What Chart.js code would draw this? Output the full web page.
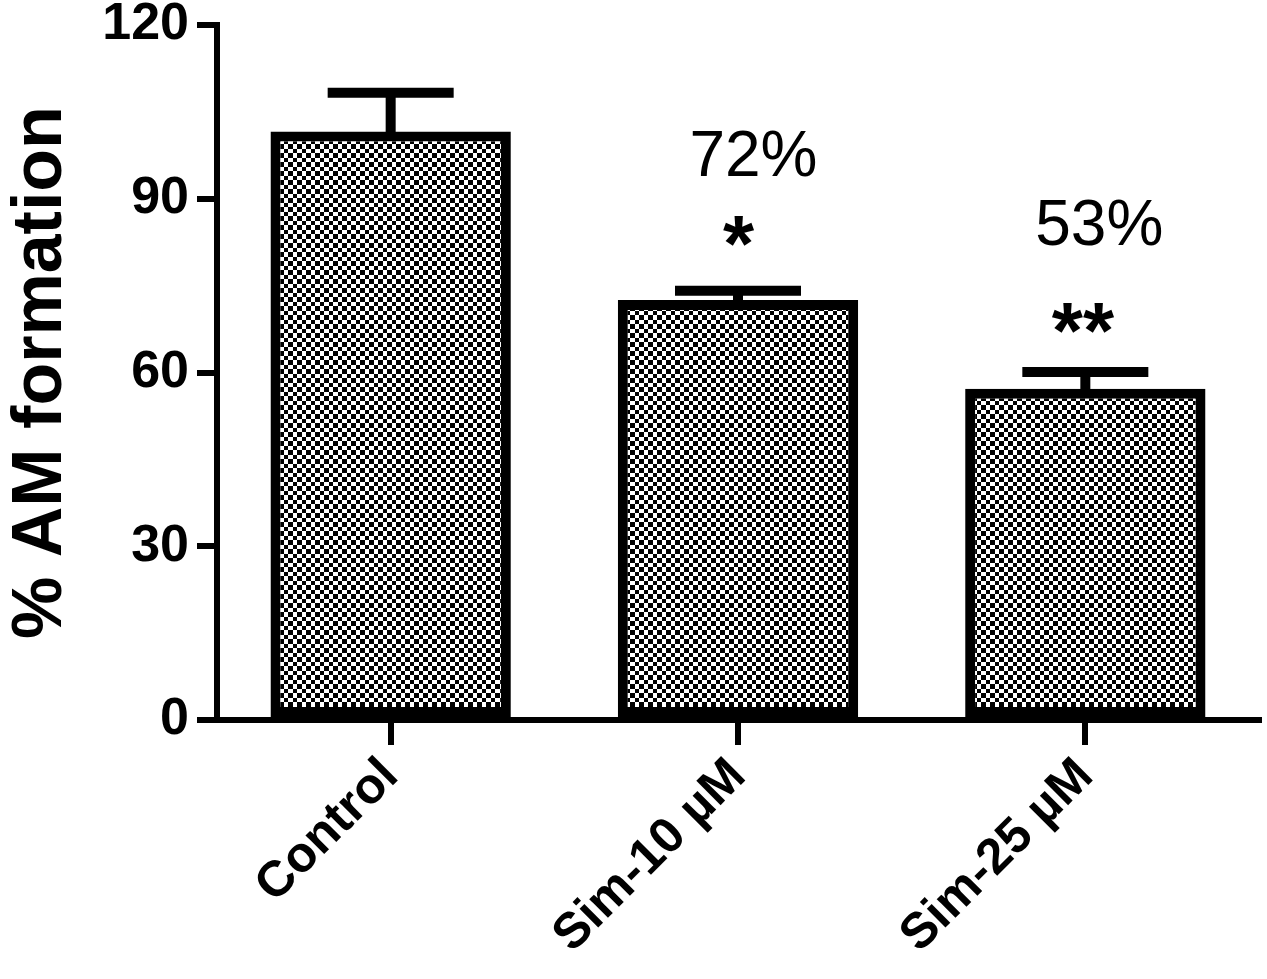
<!DOCTYPE html>
<html>
<head>
<meta charset="utf-8">
<script src="https://cdn.jsdelivr.net/npm/chart.js@4.4.1/dist/chart.umd.min.js"></script>
<style>
  html, body { margin: 0; padding: 0; background: #fff; }
  #wrap { width: 1267px; height: 979px; }
</style>
</head>
<body>
<div id="wrap"><canvas id="chart" width="1267" height="979"></canvas></div>
<script>
const categories = ['Control', 'Sim-10 µM', 'Sim-25 µM'];
const meanValues = [101.6, 72.5, 57.2];
const semValues = [6.7, 1.6, 2.9];
const yTicks = [0, 30, 60, 90, 120];
const percentLabels = ['', '72%', '53%'];
const starLabels = ['', '*', '**'];

const FONT = 'Arial, "Liberation Sans", Helvetica, sans-serif';

// checkerboard fill
function makeChecker() {
    const c = document.createElement('canvas');
    c.width = 9;
    c.height = 9;
    const g = c.getContext('2d');
    g.fillStyle = '#fff';
    g.fillRect(0, 0, 9, 9);
    g.fillStyle = '#000';
    g.fillRect(0, 0, 5, 5);
    g.fillRect(5, 5, 4, 4);
    return g.createPattern(c, 'repeat');
}

const errorBars = {
    id: 'errorBars',
    afterDatasetsDraw(chart) {
        const ctx = chart.ctx;
        const y = chart.scales.y;
        const meta = chart.getDatasetMeta(0);
        ctx.save();
        ctx.strokeStyle = '#000';
        ctx.lineWidth = 10;
        meta.data.forEach((bar, i) => {
            const top = y.getPixelForValue(meanValues[i] + semValues[i]);
            ctx.beginPath();
            ctx.moveTo(bar.x, bar.y + 5);
            ctx.lineTo(bar.x, top);
            ctx.moveTo(bar.x - 63, top);
            ctx.lineTo(bar.x + 63, top);
            ctx.stroke();
        });
        ctx.restore();
    }
};

// text centred on its ink box
function inkText(ctx, text, cx, cy) {
    const m = ctx.measureText(text);
    const w = m.actualBoundingBoxLeft + m.actualBoundingBoxRight;
    const h = m.actualBoundingBoxAscent + m.actualBoundingBoxDescent;
    ctx.fillText(text, cx - w / 2 + m.actualBoundingBoxLeft, cy - h / 2 + m.actualBoundingBoxAscent);
}

const annotations = {
    id: 'annotations',
    afterDraw(chart) {
        const ctx = chart.ctx;
        const y = chart.scales.y;
        const meta = chart.getDatasetMeta(0);
        ctx.save();
        ctx.fillStyle = '#000';
        ctx.textAlign = 'left';
        ctx.textBaseline = 'alphabetic';
        meta.data.forEach((bar, i) => {
            if (!percentLabels[i]) return;
            const errTop = y.getPixelForValue(meanValues[i] + semValues[i]);
            ctx.font = '64px ' + FONT;
            inkText(ctx, percentLabels[i], bar.x + (i === 1 ? 16 : 14), errTop - (i === 1 ? 137 : 149));
            ctx.font = 'bold 80px ' + FONT;
            inkText(ctx, starLabels[i], bar.x + (i === 1 ? 1 : -2), errTop - (i === 1 ? 60 : 54));
        });
        ctx.restore();
    }
};

new Chart(document.getElementById('chart'), {
    type: 'bar',
    data: {
        labels: categories,
        datasets: [{
            data: meanValues,
            backgroundColor: makeChecker(),
            borderColor: '#000',
            borderWidth: 10,
            borderSkipped: false,
            categoryPercentage: 1,
            barPercentage: 0.692
        }]
    },
    options: {
        responsive: false,
        animation: false,
        layout: { padding: { top: 25, right: 8, left: 0, bottom: 0 } },
        plugins: {
            legend: { display: false },
            tooltip: { enabled: false }
        },
        scales: {
            x: {
                grid: {
                    drawOnChartArea: false,
                    offset: false,
                    color: '#000',
                    lineWidth: 6,
                    tickLength: 25
                },
                border: { display: true, color: '#000', width: 6 },
                ticks: {
                    color: '#000',
                    font: { family: FONT, size: 50, weight: 'bold' },
                    minRotation: 45,
                    maxRotation: 45,
                    padding: 2
                },
                afterFit(scale) {
                    scale.height = 259;
                    scale.paddingLeft = 0;
                    scale.paddingRight = 0;
                }
            },
            y: {
                min: 0,
                max: 120,
                afterBuildTicks(scale) { scale.ticks = yTicks.map(v => ({ value: v })); },
                grid: {
                    drawOnChartArea: false,
                    color: '#000',
                    lineWidth: 6,
                    tickLength: 20
                },
                border: { display: true, color: '#000', width: 6 },
                ticks: {
                    color: '#000',
                    font: { family: FONT, size: 52, weight: 'bold' },
                    padding: 8
                },
                title: {
                    display: true,
                    text: '% AM formation',
                    color: '#000',
                    font: { family: FONT, size: 70, weight: 'bold' },
                    padding: { top: 0, bottom: 0 }
                },
                afterFit(scale) {
                    scale.width = 217;
                    scale.paddingTop = 0;
                    scale.paddingBottom = 0;
                }
            }
        }
    },
    plugins: [errorBars, annotations]
});
</script>
</body>
</html>
